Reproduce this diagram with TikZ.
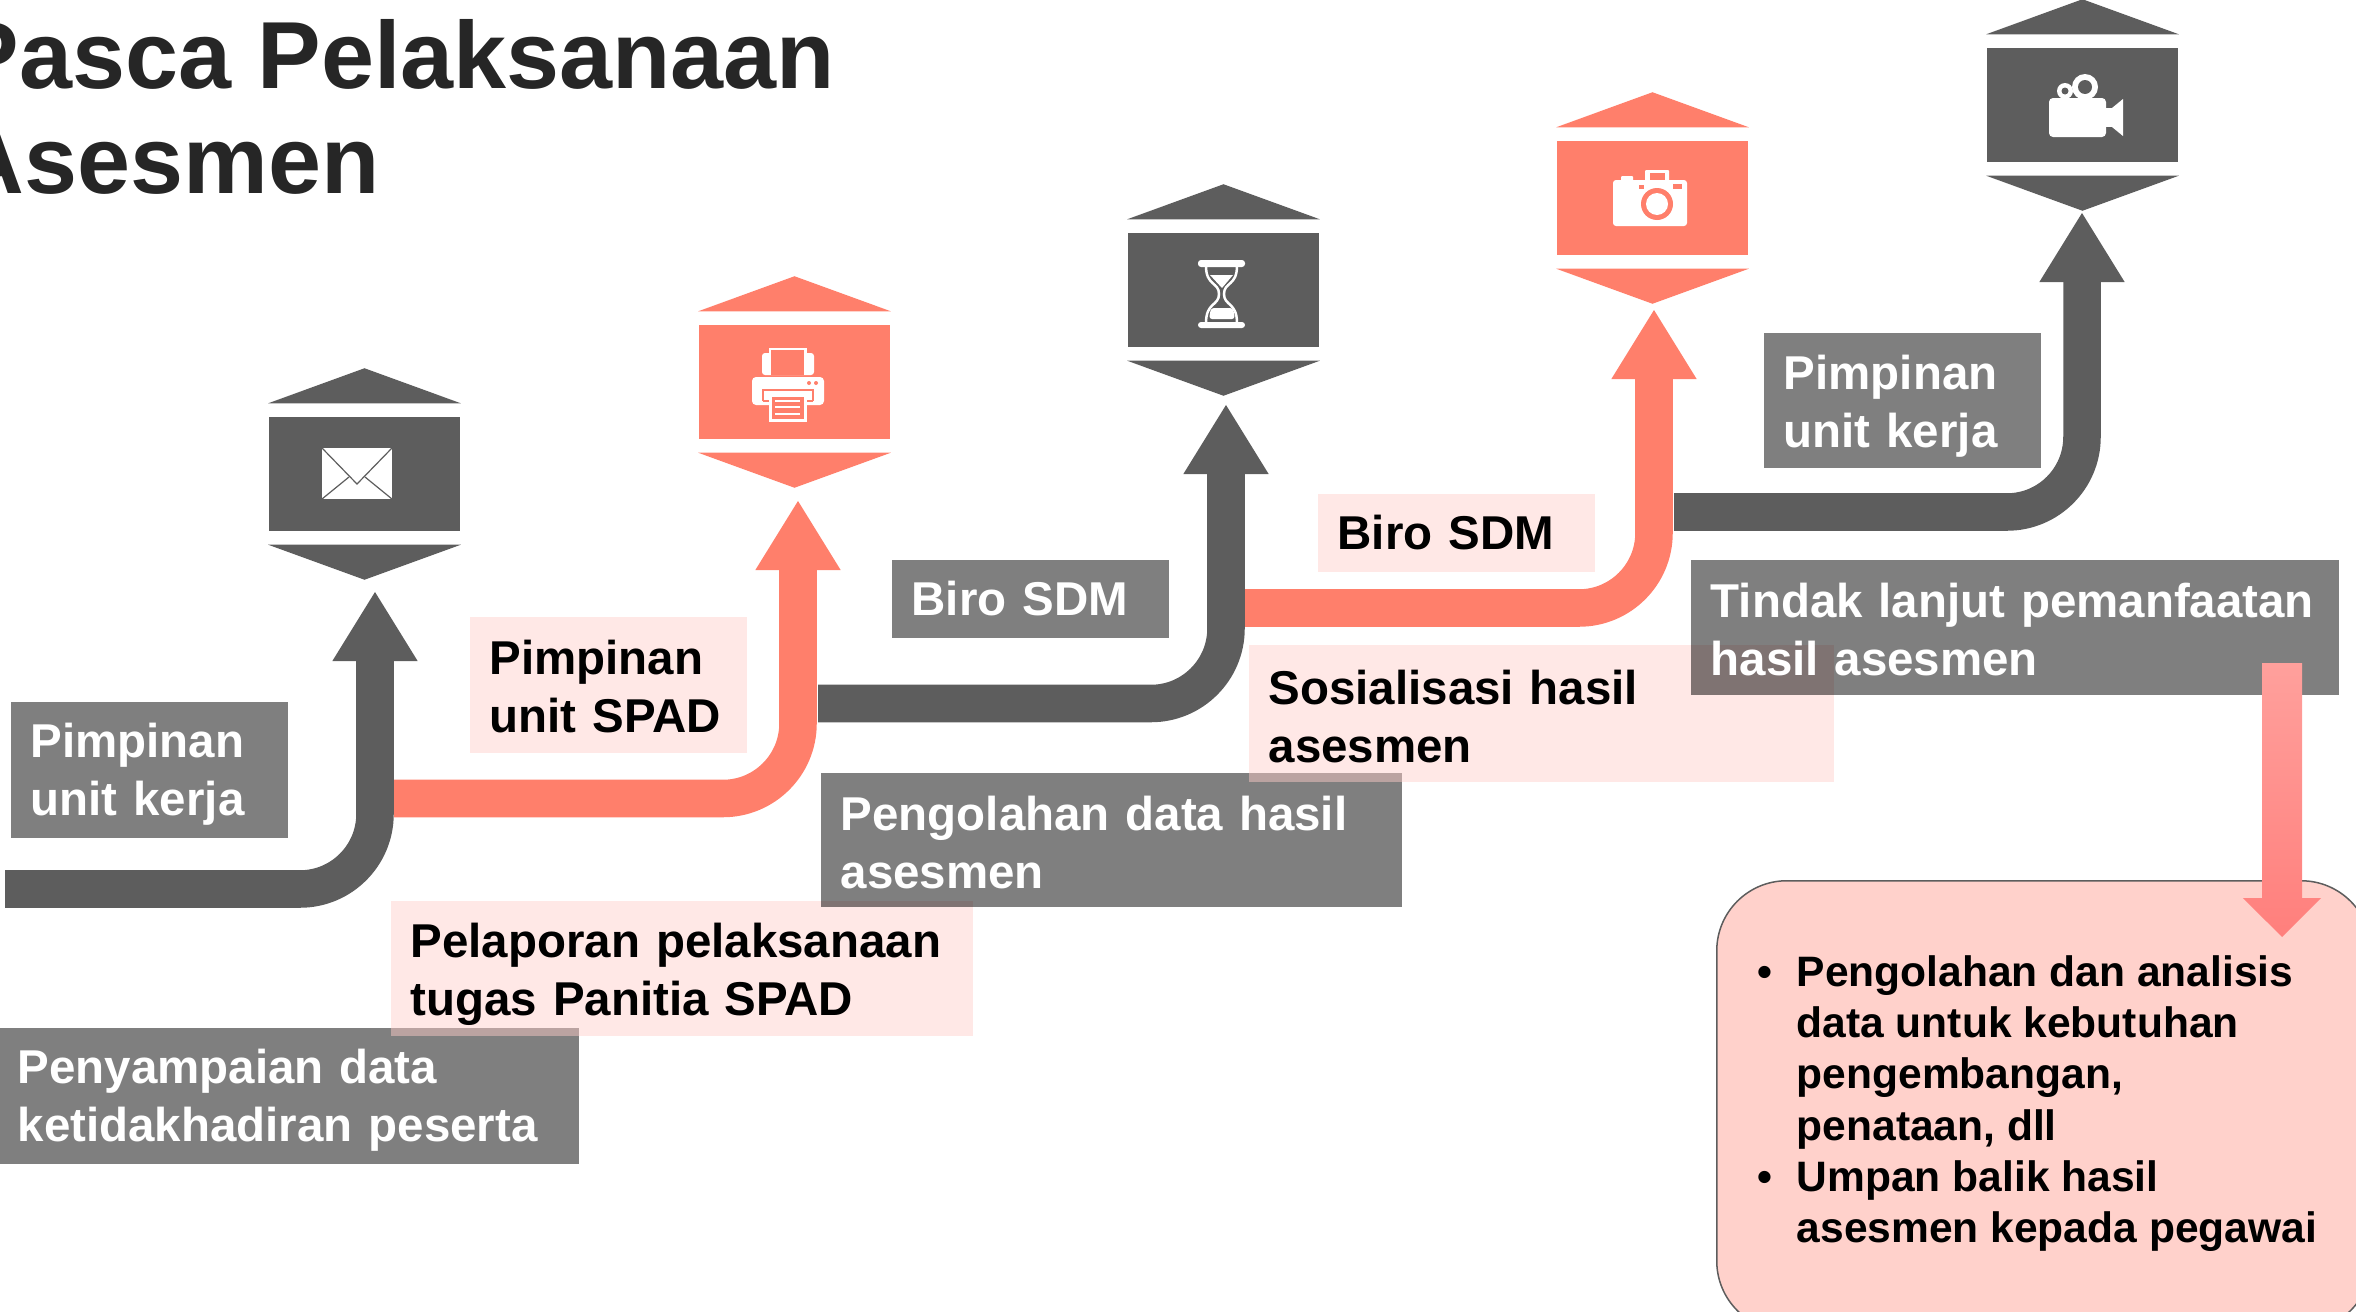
\documentclass[tikz,border=0pt]{standalone}
\usepackage{fontspec}
\setmainfont{Liberation Sans}
\usetikzlibrary{arrows.meta}
\definecolor{stepdark}{HTML}{5D5D5D}
\definecolor{stepsalmon}{HTML}{FF7F6B}
\definecolor{notepink}{HTML}{FFD1CB}
\definecolor{titleink}{HTML}{262626}
\tikzstyle{title} = [anchor=north west, inner sep=0, align=left, text=titleink, font={\fontsize{27.1}{29.8}\selectfont\bfseries}]
\tikzstyle{graybox} = [rectangle, anchor=north west, inner xsep=0.2cm, inner ysep=0, align=left, fill=black, fill opacity=0.5, text opacity=1, text=white, font={\fontsize{13.5}{16.5}\selectfont\bfseries}]
\tikzstyle{pinkbox} = [rectangle, anchor=north west, inner xsep=0.2cm, inner ysep=0, align=left, fill={rgb,255:red,255;green,205;blue,201}, fill opacity=0.465, text opacity=1, text=black, font={\fontsize{13.5}{16.5}\selectfont\bfseries}]
\tikzstyle{hexdark} = [rectangle, minimum width=1.91cm, minimum height=1.14cm, inner sep=0, fill=stepdark]
\tikzstyle{hexsalmon} = [rectangle, minimum width=1.91cm, minimum height=1.14cm, inner sep=0, fill=stepsalmon]
\tikzstyle{darkarrow} = [draw=stepdark, line width=0.375cm, rounded corners=0.75cm, -{Triangle[length=0.7cm,width=0.8cm]}]
\tikzstyle{salmonarrow} = [draw=stepsalmon, line width=0.375cm, rounded corners=0.75cm, -{Triangle[length=0.7cm,width=0.8cm]}]
\tikzstyle{notebox} = [rectangle, anchor=north west, rounded corners=0.7cm, minimum width=6.54cm, minimum height=4.5cm, fill=notepink, draw=stepdark, line width=0.015cm]
\tikzstyle{notetext} = [anchor=north west, inner sep=0, align=left, text=black, font={\fontsize{12.1}{14.55}\selectfont\bfseries}]
\begin{document}
\begin{tikzpicture}[x=0.01cm, y=-0.01cm]
               \useasboundingbox (0,0) rectangle (2356,1312);
               \node [title] at (-45,19) (title) {Pasca Pelaksanaan\\Asesmen};
               \node [hexdark] at (364.5,474) (mail) {};
               \node [hexsalmon] at (794.5,382) (printer) {};
               \node [hexdark] at (1223.5,290) (hourglass) {};
               \node [hexsalmon] at (1652.5,198) (camera) {};
               \node [hexdark] at (2082.5,105) (video) {};
               \foreach \hex/\col in {mail/stepdark, printer/stepsalmon, hourglass/stepdark, camera/stepsalmon, video/stepdark} {
                   \fill [\col] ([yshift=0.13cm]\hex.north west) -- ([yshift=0.13cm]\hex.north east) -- ([yshift=0.48cm]\hex.north) -- cycle;
                   \fill [\col] ([yshift=-0.13cm]\hex.south west) -- ([yshift=-0.13cm]\hex.south east) -- ([yshift=-0.48cm]\hex.south) -- cycle;
               }
               \fill [white] (322,448) rectangle (392,499);
               \draw [stepdark, line width=0.012cm] (322,448) -- (357,484) -- (392,448);
               \draw [stepdark, line width=0.012cm] (322,499) -- (349,477);
               \draw [stepdark, line width=0.012cm] (392,499) -- (365,477);
               \fill [white, rounded corners=0.03cm] (762,353) rectangle (814,375);
               \fill [white] (769,348) rectangle (807,375);
               \fill [stepsalmon] (771,350) rectangle (804,375);
               \fill [white, rounded corners=0.04cm] (752,377) rectangle (824,405);
               \fill [stepsalmon] (809,383) circle (2) (816,383) circle (2);
               \draw [stepsalmon, line width=0.015cm] (763,401) -- (763,390) -- (813,390) -- (813,401);
               \draw [stepsalmon, line width=0.015cm] (763,401) -- (813,401);
               \fill [white] (769,395) rectangle (807,422);
               \fill [stepsalmon] (772,397) rectangle (804,419);
               \draw [white, line width=0.015cm] (775,401) -- (800,401) (775,407) -- (800,407) (775,414) -- (800,414);
               \fill [white, rounded corners=0.03cm] (1198,260) rectangle (1245,267);
               \fill [white, rounded corners=0.03cm] (1198,322) rectangle (1245,328);
               \draw [white, line width=0.025cm] (1206,266) .. controls (1206,286) and (1219,282) .. (1219,294) .. controls (1219,306) and (1206,302) .. (1206,323);
               \draw [white, line width=0.025cm] (1237,266) .. controls (1237,286) and (1224,282) .. (1224,294) .. controls (1224,306) and (1237,302) .. (1237,323);
               \fill [white] (1210,275) -- (1233,275) -- (1222,288) -- cycle;
               \fill [white, rounded corners=0.03cm] (1209,319) -- (1211,308) -- (1233,308) -- (1235,319) -- cycle;
               \fill [white, rounded corners=0.03cm] (1613,226) rectangle (1687,180);
               \fill [white, rounded corners=0.01cm] (1621,176) rectangle (1633,184);
               \fill [white, rounded corners=0.01cm] (1645,170) rectangle (1669,184);
               \fill [stepsalmon] (1650,173) rectangle (1665,180);
               \fill [stepsalmon] (1639,185) rectangle (1644,189);
               \fill [stepsalmon] (1673,184) rectangle (1682,189);
               \fill [stepsalmon] (1657,204) circle (16);
               \fill [white] (1657,204) circle (11);
               \fill [white, rounded corners=0.04cm] (2049,98) rectangle (2106,137);
               \fill [white] (2104,108) rectangle (2112,127);
               \fill [white] (2112,108) -- (2123,99) -- (2123,136) -- (2112,127) -- cycle;
               \fill [white] (2085,87) circle (13);
               \fill [stepdark] (2085,87) circle (7);
               \fill [white] (2065,91) circle (8);
               \fill [stepdark] (2065,91) circle (3.5);
               \coordinate (startA) at (5,889);
               \coordinate (turnA) at (375,889);
               \coordinate (tipA) at (375,591);
               \coordinate (startB) at (394,798.5);
               \coordinate (turnB) at (798,798.5);
               \coordinate (tipB) at (798,500);
               \coordinate (startC) at (818,703.5);
               \coordinate (turnC) at (1226,703.5);
               \coordinate (tipC) at (1226,404);
               \coordinate (startD) at (1245,608);
               \coordinate (turnD) at (1654,608);
               \coordinate (tipD) at (1654,309);
               \coordinate (startE) at (1674,512);
               \coordinate (turnE) at (2082,512);
               \coordinate (tipE) at (2082,212);
               \draw [darkarrow] (startA) -- (turnA) -- (tipA);
               \draw [salmonarrow] (startB) -- (turnB) -- (tipB);
               \draw [darkarrow] (startC) -- (turnC) -- (tipC);
               \draw [salmonarrow] (startD) -- (turnD) -- (tipD);
               \draw [darkarrow] (startE) -- (turnE) -- (tipE);
               \node [graybox, text width=2.37cm, minimum height=1.36cm] at (10,701) (unitA) {\rule{0pt}{0.436cm}Pimpinan\\unit kerja};
               \node [graybox, text width=5.41cm, minimum height=1.36cm] at (-3,1027) (penyampaian) {\rule{0pt}{0.436cm}Penyampaian data\\ketidakhadiran peserta};
               \node [pinkbox, text width=5.42cm, minimum height=1.35cm] at (390,900) (pelaporan) {\rule{0pt}{0.466cm}Pelaporan pelaksanaan\\tugas Panitia SPAD};
               \node [pinkbox, text width=2.37cm, minimum height=1.36cm] at (469,616) (spad) {\rule{0pt}{0.376cm}Pimpinan\\unit SPAD};
               \node [graybox, text width=5.41cm, minimum height=1.34cm] at (820,772) (pengolahan) {\rule{0pt}{0.406cm}Pengolahan data hasil\\asesmen};
               \node [graybox, text width=2.37cm, minimum height=0.78cm] at (891,559) (biroA) {Biro SDM};
               \node [pinkbox, text width=5.45cm, minimum height=1.37cm] at (1248,644) (sosialisasi) {\rule{0pt}{0.406cm}Sosialisasi hasil\\asesmen};
               \node [pinkbox, text width=2.37cm, minimum height=0.78cm] at (1317,493) (biroB) {Biro SDM};
               \node [graybox, text width=2.37cm, minimum height=1.355cm] at (1763,332) (unitB) {\rule{0pt}{0.466cm}Pimpinan\\unit kerja};
               \node [graybox, text width=6.08cm, minimum height=1.355cm] at (1690,559) (tindak) {\rule{0pt}{0.376cm}Tindak lanjut pemanfaatan\\hasil asesmen};
               \node [notebox] at (1716,880) (note) {};
               \node [notetext] at (1796,955) (notetext) {\llap{\textbullet\hspace{0.24cm}}Pengolahan dan analisis\\data untuk kebutuhan\\pengembangan,\\penataan, dll\\\llap{\textbullet\hspace{0.24cm}}Umpan balik hasil\\asesmen kepada pegawai};
               \coordinate (feedtop) at (2282,663);
               \coordinate (feedneck) at (2282,898);
               \coordinate (feedtip) at (2282,937);
               \shade [top color={rgb,255:red,255;green,160;blue,156}, bottom color={rgb,255:red,255;green,127;blue,124}] ([xshift=-0.2cm]feedtop) -- ([xshift=0.2cm]feedtop) -- ([xshift=0.2cm]feedneck) -- ([xshift=0.39cm]feedneck) -- (feedtip) -- ([xshift=-0.39cm]feedneck) -- ([xshift=-0.2cm]feedneck) -- cycle;
               \end{tikzpicture}
\end{document}
